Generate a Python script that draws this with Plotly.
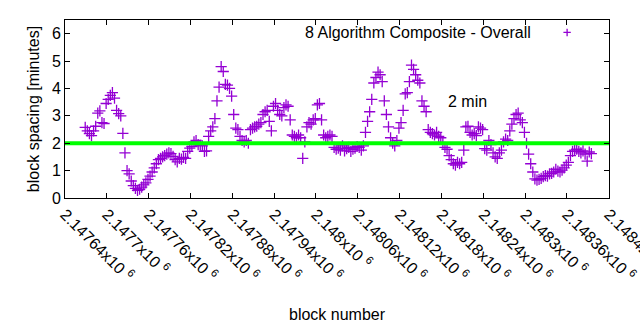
import plotly.graph_objects as go

# Block spacing series (minutes), one sample every 3 blocks
first_block = 2147669
block_step = 3
spacing_minutes = [
    2.58, 2.45, 2.35, 2.28, 2.45, 2.62, 3.1, 3.18, 2.75, 2.72,
    3.45, 3.6, 3.75, 3.85, 3.65, 3.2, 3.08, 3.0, 2.36, 1.65,
    1.0, 0.88, 0.62, 0.45, 0.35, 0.28, 0.32, 0.4, 0.48, 0.55,
    0.68, 0.8, 0.95, 1.1, 1.25, 1.4, 1.45, 1.5, 1.55, 1.6,
    1.65, 1.62, 1.52, 1.4, 1.32, 1.45, 1.42, 1.48, 1.45, 1.7,
    1.82, 1.88, 2.05, 2.1, 1.95, 1.92, 1.9, 1.7, 1.72, 2.25,
    2.45, 2.6, 2.9, 3.55, 4.05, 4.8, 4.62, 4.15, 4.12, 4.0,
    3.72, 3.05, 2.55, 2.5, 2.25, 2.1, 2.05, 2.1, 2.0, 2.5,
    2.55, 2.6, 2.62, 2.7, 2.75, 3.05, 3.15, 3.2, 2.8, 2.45,
    3.35, 3.45, 3.2, 3.05, 3.0, 3.3, 3.4, 3.35, 2.85, 2.3,
    2.25, 2.2, 2.3, 2.2, 1.45, 2.05, 2.6, 2.75, 2.7, 2.85,
    2.9, 3.4, 3.45, 2.85, 2.3, 2.2, 2.25, 2.3, 2.25, 1.85,
    1.78, 1.82, 1.75, 1.9, 1.72, 1.8, 1.85, 1.7, 1.78, 1.82,
    1.88, 1.85, 1.75, 1.9, 2.4, 2.8, 3.15, 3.6, 4.2, 4.4,
    4.6, 4.5, 4.25, 3.55, 3.05, 2.6, 2.2, 2.0, 1.9, 2.1,
    2.55, 2.75, 3.2, 3.8, 3.85, 4.25, 4.85, 4.7, 4.5, 4.3,
    4.2, 3.55, 3.35, 3.15, 2.5, 2.4, 2.35, 2.3, 2.4, 2.25,
    2.2, 2.0, 1.85, 1.78, 1.55, 1.4, 1.25, 1.2, 1.3, 1.25,
    1.3, 1.75, 2.6, 2.62, 2.4, 2.3, 2.35, 2.28, 2.6, 2.55,
    2.5, 1.8, 1.75, 2.1, 1.95, 1.65, 1.5, 1.45, 1.65, 1.75,
    2.05, 2.15, 2.1, 2.45, 2.7, 2.9, 3.05, 3.1, 2.85, 2.75,
    2.4, 2.0, 1.6, 1.25, 0.95, 0.7, 0.65, 0.68, 0.72, 0.78,
    0.82, 0.8, 0.88, 0.9, 0.95, 1.05, 0.98, 0.95, 1.02, 1.1,
    1.2, 1.3, 1.55, 1.7, 1.75, 1.78, 1.7, 1.65, 1.72, 1.6,
    1.35, 1.68, 1.62,
]
blocks = [first_block + block_step * i for i in range(len(spacing_minutes))]

target_minutes = 2
x_range = [2147640, 2148420.3]
tick_blocks = list(range(2147640, 2148421, 60))
tick_labels = ["%gx10 <sup>6</sup>" % (b / 1e6) for b in tick_blocks]
y_ticks = [0, 1, 2, 3, 4, 5, 6]

series_name = "8 Algorithm Composite - Overall"
target_label = "2 min"

PURPLE = "#9400D3"
FONT = dict(family="Liberation Sans, Arial, sans-serif", size=16, color="black")

fig = go.Figure()
fig.add_trace(go.Scatter(
    x=blocks, y=spacing_minutes, mode="markers", name=series_name,
    marker=dict(symbol="cross-thin", size=8,
                line=dict(color=PURPLE, width=1.3)),
    showlegend=False,
))
fig.add_trace(go.Scatter(
    x=x_range, y=[target_minutes, target_minutes], mode="lines",
    line=dict(color="#00FF00", width=4), showlegend=False,
))

# key entry: title text on the left, point sample on the right
fig.add_annotation(xref="paper", yref="paper", x=0.861, y=0.93,
                   text=series_name, showarrow=False, xanchor="right",
                   yanchor="middle", font=FONT)
kx, ky, hx, hy = 0.923, 0.93, 0.0068, 0.021
fig.add_shape(type="path", xref="paper", yref="paper",
              path=f"M {kx-hx},{ky} L {kx+hx},{ky} M {kx},{ky-hy} L {kx},{ky+hy}",
              line=dict(color=PURPLE, width=1.3))

fig.add_annotation(x=2148187, y=3.54, text=target_label, showarrow=False,
                   xanchor="left", yanchor="middle", font=FONT)

# x-axis title placed below the slanted tick labels
fig.add_annotation(xref="paper", yref="paper", x=0.5, y=-0.653,
                   text="block number", showarrow=False,
                   xanchor="center", yanchor="middle", font=FONT)

axis_common = dict(showline=True, linecolor="black", linewidth=1,
                   mirror="ticks", ticks="inside", ticklen=5,
                   tickcolor="black", showgrid=False, zeroline=False,
                   tickfont=FONT)
fig.update_xaxes(range=x_range, tickvals=tick_blocks, ticktext=tick_labels,
                 tickangle=45, ticklabeloverflow="allow", **axis_common)
fig.update_yaxes(range=[0, 6.5], tickvals=y_ticks,
                 title=dict(text="block spacing [minutes]", font=FONT, standoff=8),
                 **axis_common)
fig.update_layout(width=640, height=330, plot_bgcolor="white",
                  paper_bgcolor="white",
                  margin=dict(l=65, r=31, t=20, b=132, autoexpand=False),
                  font=FONT)
fig.write_html("out.html")
